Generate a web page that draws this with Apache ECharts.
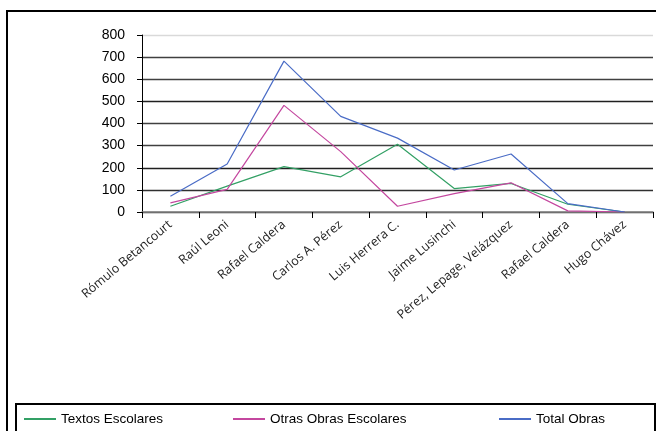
<!DOCTYPE html>
<html>
<head>
<meta charset="utf-8">
<script src="https://cdn.jsdelivr.net/npm/echarts@6/dist/echarts.min.js"></script>
<style>
html,body{margin:0;padding:0;background:#fff;}
#chart{width:656px;height:431px;}
</style>
</head>
<body>
<div id="chart"></div>
<script>
var categories = ['Rómulo Betancourt','Raúl Leoni','Rafael Caldera','Carlos A. Pérez','Luis Herrera C.','Jaime Lusinchi','Pérez, Lepage, Velázquez','Rafael Caldera','Hugo Chávez'];
var textosEscolares = [26, 117, 205, 159, 306, 106, 129, 35, 0];
var otrasObras = [41, 102, 482, 273, 26, 83, 132, 5, 0];
var totalObras = [71, 217, 682, 432, 334, 190, 262, 38, 0];
var yTicks = [0, 100, 200, 300, 400, 500, 600, 700, 800];

var chart = echarts.init(document.getElementById('chart'));
var legendText = {fontFamily: 'Liberation Sans, Arial', fontSize: 13.5, color: '#000'};
function leg(name, left) {
  return {
    data: [name], left: left, top: 412, itemWidth: 32, itemHeight: 2,
    itemGap: 8, padding: 0, textStyle: legendText, selectedMode: false
  };
}
chart.setOption({
  animation: false,
  backgroundColor: '#fff',
  grid: {left: 142, right: 3, top: 35, bottom: 219, containLabel: false},
  legend: [leg('Textos Escolares', 23), leg('Otras Obras Escolares', 232), leg('Total Obras', 498)],
  xAxis: {
    type: 'category',
    data: categories,
    boundaryGap: true,
    axisLine: {show: true, lineStyle: {color: '#808080', width: 1.5}},
    axisTick: {show: true, length: 6, alignWithLabel: false, lineStyle: {color: '#000'}},
    axisLabel: {rotate: 40, interval: 0, margin: 11, fontFamily: 'Open Sans', fontSize: 12.5, color: '#222'},
    splitLine: {show: false}
  },
  yAxis: {
    type: 'value',
    min: yTicks[0], max: yTicks[yTicks.length - 1], interval: 100,
    axisLine: {show: true, lineStyle: {color: '#000', width: 1}},
    axisTick: {show: true, length: 5, lineStyle: {color: '#000'}},
    axisLabel: {margin: 17, fontFamily: 'Liberation Sans, Arial', fontSize: 14, color: '#000'},
    splitLine: {show: true, lineStyle: {color: ['#404040','#303030','#202020','#404040','#404040','#202020','#404040','#404040','#d9d9d9'], width: 1.3}}
  },
  series: [
    {name: 'Textos Escolares', type: 'line', data: textosEscolares, symbol: 'none', lineStyle: {color: '#33a065', width: 1.2}, itemStyle: {color: '#33a065'}},
    {name: 'Otras Obras Escolares', type: 'line', data: otrasObras, symbol: 'none', lineStyle: {color: '#c4479f', width: 1.2}, itemStyle: {color: '#c4479f'}},
    {name: 'Total Obras', type: 'line', data: totalObras, symbol: 'none', lineStyle: {color: '#4a6cc6', width: 1.2}, itemStyle: {color: '#4a6cc6'}}
  ],
  graphic: [
    {type: 'rect', shape: {x: 7, y: 11, width: 700, height: 500}, style: {fill: 'none', stroke: '#000', lineWidth: 2}, silent: true},
    {type: 'rect', shape: {x: 16, y: 404, width: 639, height: 60}, style: {fill: 'none', stroke: '#000', lineWidth: 2}, silent: true}
  ]
});
</script>
</body>
</html>
